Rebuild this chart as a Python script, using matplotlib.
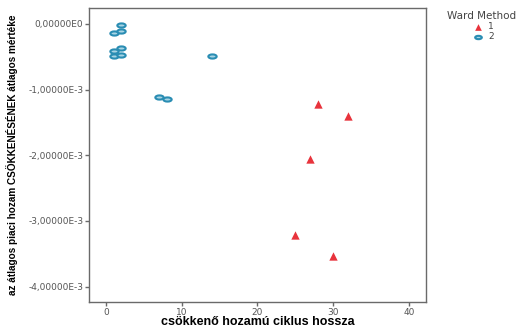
import matplotlib
matplotlib.use("Agg")
import matplotlib.pyplot as plt
from matplotlib.path import Path
from matplotlib.transforms import Affine2D

# cluster 1 (Ward Method = 1)
x1 = [28, 32, 27, 25, 30]
y1 = [-1.22e-3, -1.40e-3, -2.05e-3, -3.21e-3, -3.53e-3]
# cluster 2 (Ward Method = 2)
x2 = [2, 1, 2, 1, 2, 1, 2, 14, 7, 8]
y2 = [-0.02e-3, -0.14e-3, -0.11e-3, -0.42e-3, -0.37e-3, -0.49e-3, -0.47e-3,
      -0.49e-3, -1.11e-3, -1.15e-3]

xticks = [0, 10, 20, 30, 40]
yticks = [0, -1e-3, -2e-3, -3e-3, -4e-3]
ytick_labels = ["0,00000E0", "-1,00000E-3", "-2,00000E-3", "-3,00000E-3", "-4,00000E-3"]

ellipse = Path.unit_circle().transformed(Affine2D().scale(1.0, 0.5))

fig = plt.figure(figsize=(5.28, 3.29), dpi=100)
ax = fig.add_axes([0.1686, 0.082, 0.638, 0.894])

ax.scatter(x1, y1, marker="^", s=36, color="#e8333c", linewidths=0, label="1", zorder=3)
ax.scatter(x2, y2, marker=ellipse, s=36, facecolor="#a8d4e4", edgecolor="#2a8db3",
           linewidths=1.5, label="2", zorder=3)

ax.set_xlim(-2.25, 42.25)
ax.set_ylim(-4.233e-3, 0.243e-3)
ax.set_xticks(xticks)
ax.set_yticks(yticks)
ax.set_yticklabels(ytick_labels)

for s in ax.spines.values():
    s.set_color("#6a6a6a")
    s.set_linewidth(1.0)
ax.tick_params(direction="out", length=3, width=1, color="#6a6a6a",
               labelsize=6.5, labelcolor="#555555", pad=1)

ax.set_xlabel("csökkenő hozamú ciklus hossza", fontsize=9, fontweight="bold",
              family=["Liberation Sans", "DejaVu Sans"])
ax.xaxis.set_label_coords(0.5, -0.047)
ax.set_ylabel("az átlagos piaci hozam CSÖKKENÉSÉNEK átlagos mértéke", fontsize=7.2,
              fontweight="bold", family=["Liberation Sans", "DejaVu Sans"])
ax.yaxis.set_label_coords(-0.21, 0.5)

leg = fig.legend(loc="upper left", bbox_to_anchor=(0.835, 0.985), frameon=False,
                 title="Ward Method", fontsize=6.5, title_fontsize=7.5,
                 handletextpad=0.1, labelspacing=0.1, borderpad=0.2, markerscale=0.8)
leg.get_title().set_color("#444444")
for t in leg.get_texts():
    t.set_color("#444444")

fig.savefig("out.png", dpi=100)
